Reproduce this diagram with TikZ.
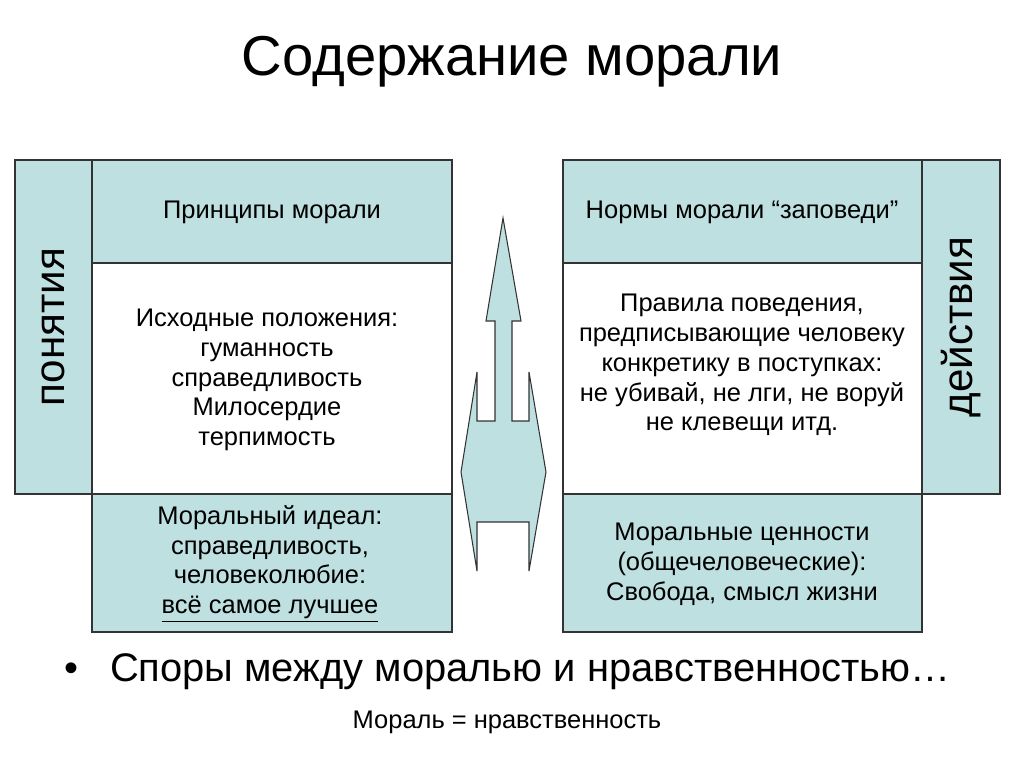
\documentclass[tikz,border=0pt]{standalone}
\usepackage{fontspec}
\setmainfont{Liberation Sans}
\definecolor{teal1}{RGB}{190,224,224}
\begin{document}
\begin{tikzpicture}[x=0.02cm, y=-0.02cm,
  cell/.style={draw=black!80, line width=0.6pt},
  txt/.style={align=center, font=\fontsize{14.5}{17}\selectfont},
  side/.style={rotate=90, font=\fontsize{24}{28}\selectfont}]
  \useasboundingbox (0,0) rectangle (1024,767);
  \node (title) at (512,62) {\fontsize{32}{36}\selectfont Содержание морали};
  % left block
  \draw[cell, fill=teal1] (15,160) rectangle (92,494);
  \draw[cell, fill=teal1] (92,160) rectangle (452,263);
  \draw[cell, fill=white] (92,263) rectangle (452,494);
  \draw[cell, fill=teal1] (92,494) rectangle (452,632);
  \node[side] (pon) at (53,327) {понятия};
  \node[txt] (princ) at (272,212) {Принципы морали};
  \node[txt] (ish) at (267,380) {Исходные положения:\\гуманность\\справедливость\\Милосердие\\терпимость};
  \node[txt] (ideal) at (270,564) {Моральный идеал:\\справедливость,\\человеколюбие:\\\underline{всё самое лучшее}};
  % right block
  \draw[cell, fill=teal1] (922,160) rectangle (1000,494);
  \draw[cell, fill=teal1] (563,160) rectangle (922,263);
  \draw[cell, fill=white] (563,263) rectangle (922,494);
  \draw[cell, fill=teal1] (563,494) rectangle (922,632);
  \node[side] (dei) at (961,327) {действия};
  \node[txt] (norm) at (742,212) {Нормы морали “заповеди”};
  \node[txt] (prav) at (742,365) {Правила поведения,\\предписывающие человеку\\конкретику в поступках:\\не убивай, не лги, не воруй\\не клевещи итд.};
  \node[txt] (cen) at (742,564) {Моральные ценности\\(общечеловеческие):\\Свобода, смысл жизни};
  % arrow
  \draw[cell, fill=teal1] (503,218) -- (521,321) -- (512,321) -- (512,421) -- (529,421) -- (529,372)
    -- (546,472) -- (529,571) -- (529,522) -- (477,522) -- (477,571) -- (461,472) -- (477,372)
    -- (477,421) -- (495,421) -- (495,321) -- (486,321) -- cycle;
  \node[anchor=west] (spor) at (58,672) {\fontsize{22.7}{26}\selectfont •\hspace{0.8em}Споры между моралью и нравственностью…};
  \node (eq) at (507,722) {\fontsize{14.5}{17}\selectfont Мораль = нравственность};
\end{tikzpicture}
\end{document}
